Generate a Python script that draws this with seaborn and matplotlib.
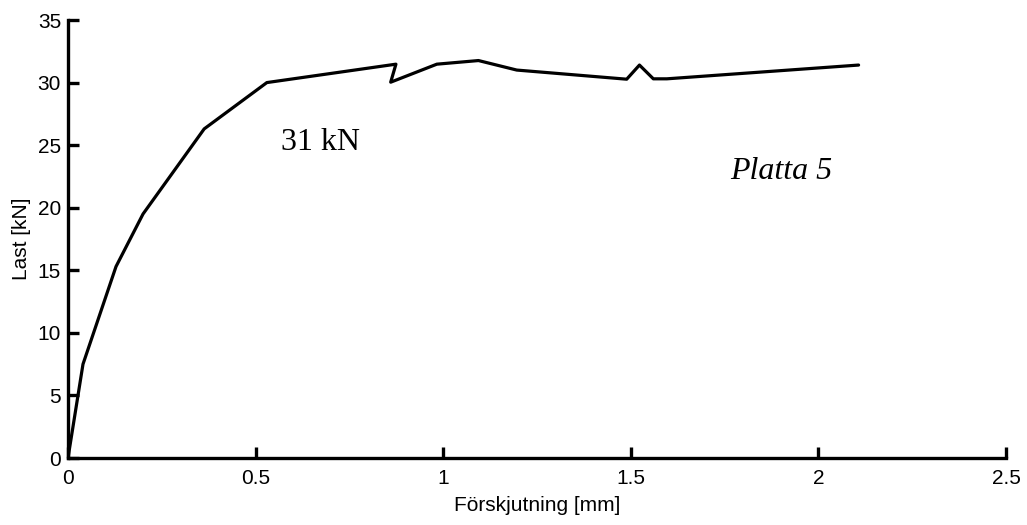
import matplotlib
matplotlib.use("Agg")
import matplotlib.pyplot as plt
import seaborn as sns
import pandas as pd

# Load-displacement curve for slab 5
displacement_mm = [0.0, 0.04, 0.128, 0.20, 0.363, 0.53, 0.874, 0.86, 0.983, 1.094,
                   1.196, 1.489, 1.523, 1.56, 1.596, 2.107]
load_kn = [0.0, 7.5, 15.3, 19.5, 26.3, 30.0, 31.47, 30.03, 31.47, 31.76,
           31.0, 30.27, 31.4, 30.3, 30.3, 31.4]

x_ticks = [0, 0.5, 1, 1.5, 2, 2.5]
x_tick_labels = ["0", "0.5", "1", "1.5", "2", "2.5"]
y_ticks = [0, 5, 10, 15, 20, 25, 30, 35]

df = pd.DataFrame({"disp": displacement_mm, "load": load_kn})

sns.set_theme(style="ticks")
plt.rcParams["font.family"] = ["Liberation Sans", "DejaVu Sans"]

fig = plt.figure(figsize=(10.27, 5.25), dpi=100)
ax = fig.add_axes([0.0662, 0.1276, 0.9134, 0.8343])

sns.lineplot(data=df, x="disp", y="load", sort=False, estimator=None,
             color="black", linewidth=2.3, ax=ax)

ax.set_xlim(0, 2.5)
ax.set_ylim(0, 35)
ax.set_xticks(x_ticks)
ax.set_xticklabels(x_tick_labels)
ax.set_yticks(y_ticks)
sns.despine(ax=ax)
for s in ("left", "bottom"):
    ax.spines[s].set_linewidth(2.4)
    ax.spines[s].set_color("black")
ax.tick_params(direction="in", length=8, width=2.4, labelsize=15,
               colors="black")
ax.tick_params(axis="x", pad=8)
ax.tick_params(axis="y", pad=5)
ax.set_xlabel("Förskjutning [mm]", fontsize=15, color="black", labelpad=6)
ax.set_ylabel("Last [kN]", fontsize=15, color="black", labelpad=5)

ax.text(0.674, 25.2, "31 kN", family="Liberation Serif", fontsize=23,
        ha="center", va="center", color="black")
ax.text(1.902, 22.9, "Platta 5", family="Liberation Serif", style="italic",
        fontsize=23, ha="center", va="center", color="black")

fig.savefig("out.png", dpi=100)
